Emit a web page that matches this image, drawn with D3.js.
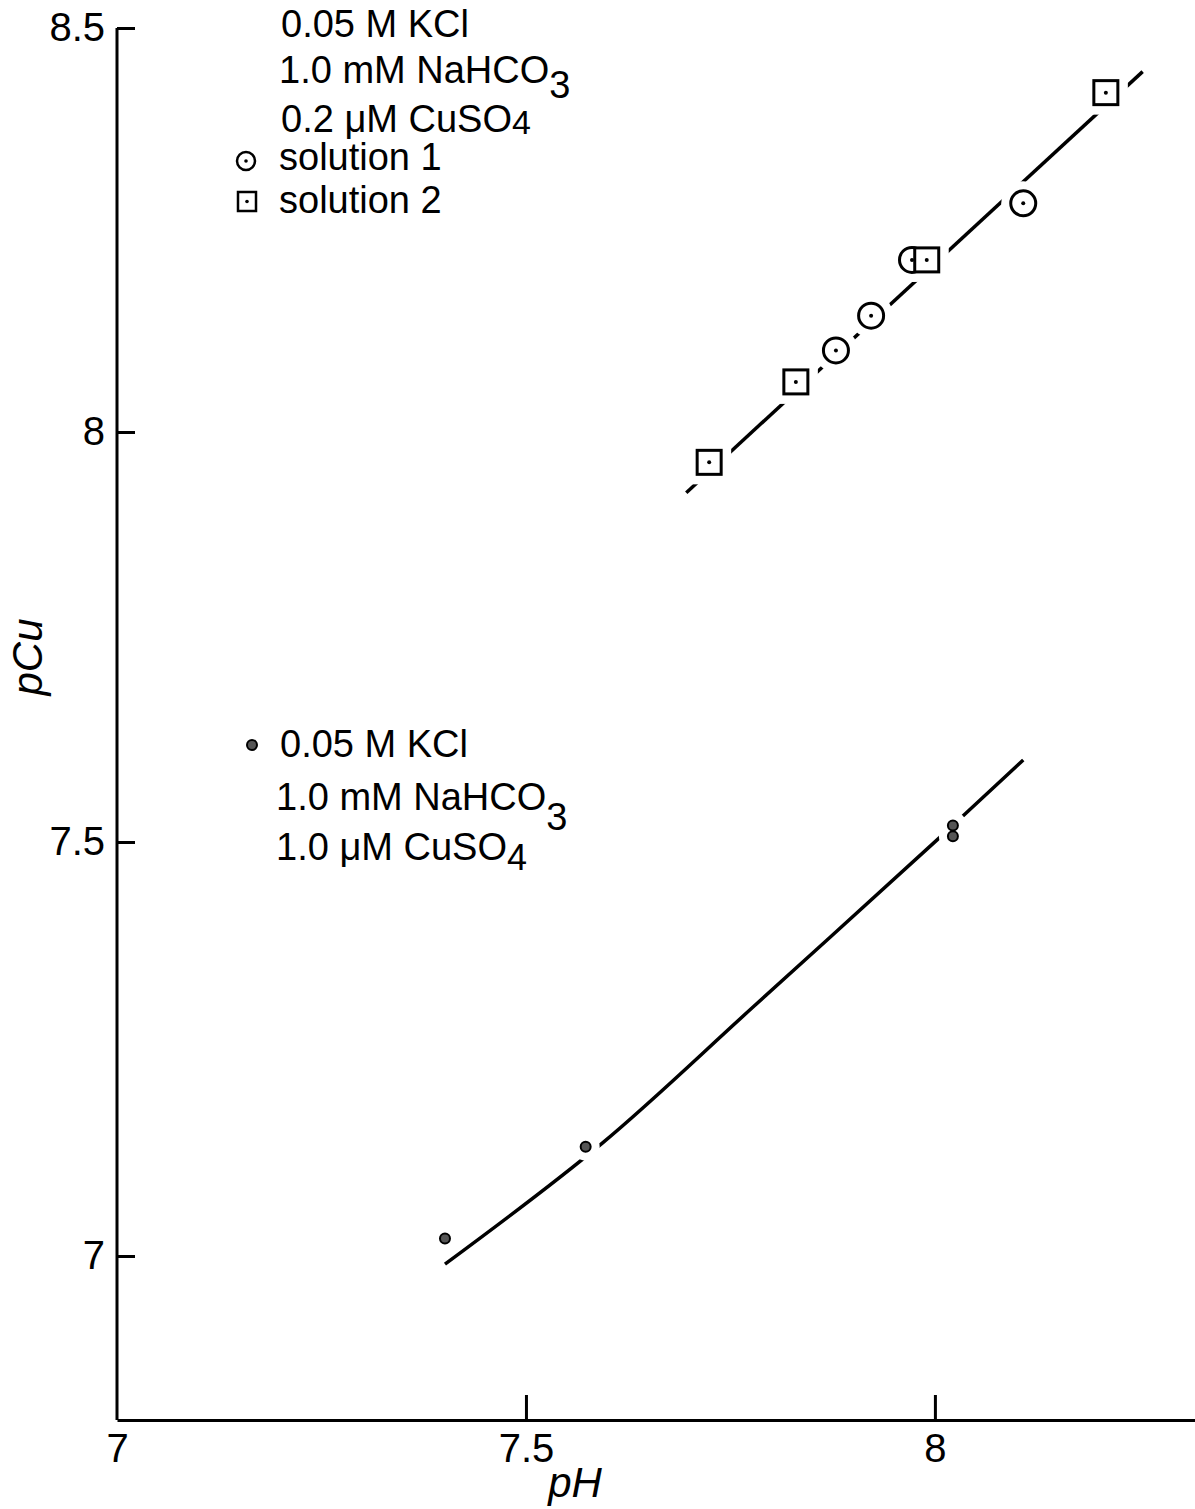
<!DOCTYPE html>
<html>
<head>
<meta charset="utf-8">
<script src="https://cdn.jsdelivr.net/npm/d3@7"></script>
<style>
  body { margin: 0; background: #fff; }
  svg { display: block; font-family: 'Liberation Sans', sans-serif; }
  .axis path, .axis line { stroke: #000; stroke-width: 3; }
  .axis text { font-size: 40px; fill: #000; font-family: 'Liberation Sans', sans-serif; }
  .legend text { font-size: 38px; fill: #000; }
</style>
</head>
<body>
<div id="chart"></div>
<script>
// upper set, 0.2 uM CuSO4
const solution1 = [[7.879, 8.101], [7.922, 8.144], [7.972, 8.213], [8.108, 8.283]]
const solution2 = [[7.724, 7.963], [7.830, 8.062], [7.990, 8.213], [8.209, 8.420]]
const upperFit = [[7.696, 7.926], [8.254, 8.446]]

// lower set, 1.0 uM CuSO4
const lowPoints = [[7.401, 7.021], [7.573, 7.132], [8.022, 7.520], [8.022, 7.507]]
const lowFit = [[7.401, 6.990], [7.593, 7.136], [7.778, 7.301], [8.002, 7.502], [8.108, 7.600]]

const xTicks = [7, 7.5, 8]
const yTicks = [7, 7.5, 8, 8.5]

const width = 1195
const height = 1509

const x = d3.scaleLinear().domain([7, 8.318]).range([117, 1195])
// the scanned axis is not quite even, so the scale follows its ticks
const y = d3.scaleLinear().domain([6.8, 7, 7.5, 8, 8.5]).range([1420, 1256, 842, 432, 28])

const svg = d3.select('#chart').append('svg')
  .attr('width', width)
  .attr('height', height)

// axes
svg.append('g')
  .attr('class', 'axis')
  .attr('transform', `translate(${x(7)},0)`)
  .call(d3.axisLeft(y).tickValues(yTicks).tickSize(-18).tickPadding(12).tickSizeOuter(0).tickFormat(d3.format('')))
  .call(g => g.select('.domain').attr('d', `M0,${y(8.5)}V${y(6.8)}`))

svg.append('g')
  .attr('class', 'axis')
  .attr('transform', `translate(0,${y(6.8)})`)
  .call(d3.axisBottom(x).tickValues(xTicks).tickSize(-25).tickPadding(14).tickSizeOuter(0).tickFormat(d3.format('')))
  .call(g => g.select('.domain').attr('stroke-width', 4))
  .call(g => g.selectAll('.tick').filter(d => d === 7).select('line').remove())

// axis titles
svg.append('text')
  .attr('x', 575).attr('y', 1497)
  .attr('text-anchor', 'middle')
  .style('font-size', '42px').style('font-style', 'italic')
  .text('pH')

svg.append('text')
  .attr('transform', 'translate(42,657) rotate(-90)')
  .attr('text-anchor', 'middle')
  .style('font-size', '42px').style('font-style', 'italic')
  .text('pCu')

const line = d3.line().x(d => x(d[0])).y(d => y(d[1]))

svg.append('path')
  .attr('d', line(upperFit))
  .attr('fill', 'none').attr('stroke', '#000').attr('stroke-width', 3.5)

svg.append('path')
  .attr('d', line.curve(d3.curveCatmullRom)(lowFit))
  .attr('fill', 'none').attr('stroke', '#000').attr('stroke-width', 3.5)

// halos break the lines around markers
const halo = svg.append('g')
halo.selectAll('circle.s1').data(solution1).join('circle')
  .attr('cx', d => x(d[0])).attr('cy', d => y(d[1])).attr('r', 22).attr('fill', '#fff')
halo.selectAll('rect.s2').data(solution2).join('rect')
  .attr('x', d => x(d[0]) - 22).attr('y', d => y(d[1]) - 22)
  .attr('width', 44).attr('height', 44).attr('fill', '#fff')
halo.selectAll('circle.lo').data(lowPoints).join('circle')
  .attr('cx', d => x(d[0])).attr('cy', d => y(d[1])).attr('r', 14).attr('fill', '#fff')

// markers
const marks = svg.append('g')
marks.selectAll('circle.s1').data(solution1).join('circle')
  .attr('cx', d => x(d[0])).attr('cy', d => y(d[1])).attr('r', 12.5)
  .attr('fill', 'none').attr('stroke', '#000').attr('stroke-width', 3)
marks.selectAll('rect.s2').data(solution2).join('rect')
  .attr('x', d => x(d[0]) - 12).attr('y', d => y(d[1]) - 12)
  .attr('width', 24).attr('height', 24)
  .attr('fill', '#fff').attr('stroke', '#000').attr('stroke-width', 3)
marks.selectAll('circle.dot').data(solution1.concat(solution2)).join('circle')
  .attr('cx', d => x(d[0])).attr('cy', d => y(d[1])).attr('r', 2).attr('fill', '#000')
marks.selectAll('circle.lo').data(lowPoints).join('circle')
  .attr('cx', d => x(d[0])).attr('cy', d => y(d[1])).attr('r', 5)
  .attr('fill', '#555').attr('stroke', '#000').attr('stroke-width', 2)

// legends
function sub (t, main, s, dy, size) {
  t.append('tspan').text(main)
  t.append('tspan').attr('dy', dy).style('font-size', size).text(s)
}

const legTop = svg.append('g').attr('class', 'legend')
legTop.append('text').attr('x', 281).attr('y', 37).text('0.05 M KCl')
sub(legTop.append('text').attr('x', 279).attr('y', 83), '1.0 mM NaHCO', '3', 15, '38px')
sub(legTop.append('text').attr('x', 281).attr('y', 132), '0.2 \u03bcM CuSO', '4', 2, '34px')
legTop.append('text').attr('x', 279).attr('y', 170).text('solution 1')
legTop.append('text').attr('x', 279).attr('y', 213).text('solution 2')
legTop.append('circle').attr('cx', 246).attr('cy', 161).attr('r', 9)
  .attr('fill', 'none').attr('stroke', '#000').attr('stroke-width', 2.5)
legTop.append('circle').attr('cx', 246).attr('cy', 161).attr('r', 1.8).attr('fill', '#000')
legTop.append('rect').attr('x', 238).attr('y', 192).attr('width', 18).attr('height', 19)
  .attr('fill', 'none').attr('stroke', '#000').attr('stroke-width', 2.5)
legTop.append('circle').attr('cx', 247).attr('cy', 201.5).attr('r', 1.8).attr('fill', '#000')

const legLow = svg.append('g').attr('class', 'legend')
legLow.append('circle').attr('cx', 252).attr('cy', 745).attr('r', 5)
  .attr('fill', '#555').attr('stroke', '#000').attr('stroke-width', 2)
legLow.append('text').attr('x', 280).attr('y', 757).text('0.05 M KCl')
sub(legLow.append('text').attr('x', 276).attr('y', 810), '1.0 mM NaHCO', '3', 20, '38px')
sub(legLow.append('text').attr('x', 276).attr('y', 860), '1.0 \u03bcM CuSO', '4', 10, '36px')
</script>
</body>
</html>
